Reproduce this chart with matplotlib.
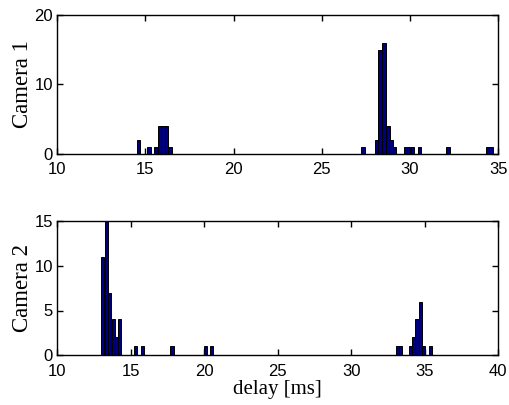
import matplotlib
matplotlib.use("Agg")
import matplotlib.pyplot as plt

# Camera 1 histogram (bin centres in ms, counts)
cam1_delay = [14.61, 15.20, 15.60, 15.81, 16.01, 16.21, 16.41,
              27.32, 28.10, 28.30, 28.52, 28.74, 28.93, 29.12,
              29.73, 29.94, 30.14, 30.53, 32.15, 34.40, 34.60]
cam1_count = [2, 1, 1, 4, 4, 4, 1,
              1, 2, 15, 16, 4, 2, 1,
              1, 1, 1, 1, 1, 1, 1]

# Camera 2 histogram
cam2_delay = [13.11, 13.35, 13.59, 13.83, 14.05, 14.27, 15.35, 15.83,
              17.82, 20.07, 20.48,
              33.13, 33.35, 34.01, 34.24, 34.47, 34.69, 34.91, 35.37]
cam2_count = [11, 15, 7, 4, 2, 4, 1, 1,
              1, 1, 1,
              1, 1, 1, 2, 4, 6, 1, 1]

bar_color = "#00007f"

fig = plt.figure(figsize=(5.09, 4.05), dpi=100)
ax1 = fig.add_axes([0.112, 0.620, 0.867, 0.343])
ax2 = fig.add_axes([0.112, 0.123, 0.867, 0.331])

def style(ax):
    ax.tick_params(direction="in", top=True, right=True, length=4, width=1,
                   labelsize=12, pad=3)
    ax.tick_params(axis="x", pad=6)
    for s in ax.spines.values():
        s.set_linewidth(1)
    for lab in ax.get_xticklabels() + ax.get_yticklabels():
        lab.set_family("Liberation Sans")

ax1.bar(cam1_delay, cam1_count, width=0.2, color=bar_color, edgecolor="black", linewidth=0.7)
ax1.set_xlim(10, 35)
ax1.set_ylim(0, 20)
ax1.set_xticks([10, 15, 20, 25, 30, 35])
ax1.set_yticks([0, 10, 20])
ax1.set_ylabel("Camera 1", family="Liberation Serif", fontsize=16.5, labelpad=1)
style(ax1)

ax2.bar(cam2_delay, cam2_count, width=0.22, color=bar_color, edgecolor="black", linewidth=0.7)
ax2.set_xlim(10, 40)
ax2.set_ylim(0, 15)
ax2.set_xticks([10, 15, 20, 25, 30, 35, 40])
ax2.set_yticks([0, 5, 10, 15])
ax2.set_ylabel("Camera 2", family="Liberation Serif", fontsize=16.5, labelpad=1)
ax2.set_xlabel("delay [ms]", family="Liberation Serif", fontsize=15, labelpad=1)
style(ax2)

fig.savefig("out.png", dpi=100)
